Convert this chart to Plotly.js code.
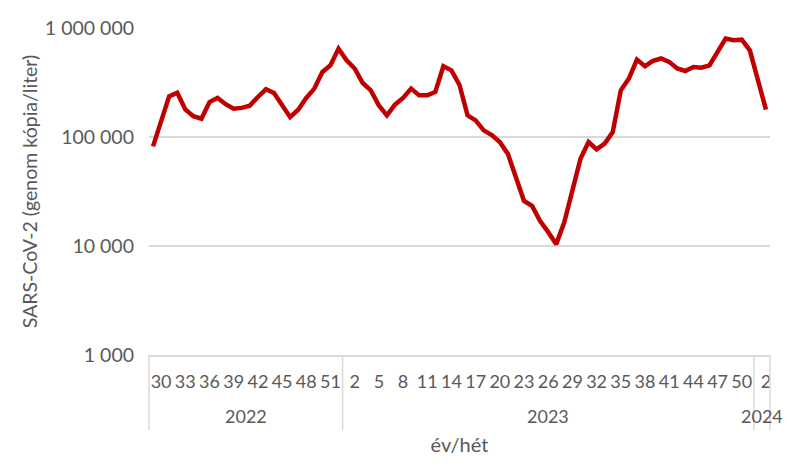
<!DOCTYPE html>
<html><head><meta charset="utf-8">
<script src="https://cdn.plot.ly/plotly-3.0.1.min.js"></script>
<style>html,body{margin:0;padding:0;background:#fff}#chart{width:802px;height:472px}</style>
</head><body><div id="chart"></div>
<script>
const years = [2022, 2023, 2024];
const weeks2022 = [29,30,31,32,33,34,35,36,37,38,39,40,41,42,43,44,45,46,47,48,49,50,51,52];
const weeks2023 = [1,2,3,4,5,6,7,8,9,10,11,12,13,14,15,16,17,18,19,20,21,22,23,24,25,26,27,28,29,30,31,32,33,34,35,36,37,38,39,40,41,42,43,44,45,46,47,48,49,50,51];
const weeks2024 = [1,2];
const values = [
  82000,145000,236000,255000,179000,155000,147000,209000,228000,200000,182000,185000,
  194000,233000,274000,253000,195000,152000,178000,228000,278000,395000,455000,647000,
  506000,425000,313000,268000,195000,158000,198000,228000,278000,241000,241000,259000,
  446000,409000,300000,158000,142000,115000,104000,90000,70000,43000,25900,23300,
  16900,13400,10400,16600,33600,63000,90000,77000,87000,111000,268000,343000,
  513000,446000,499000,525000,489000,425000,403000,439000,432000,455000,603000,800000,
  771000,782000,624000,320000,178000
];
const yTickVals = [1000, 10000, 100000, 1000000];
const yTickText = ["1\u00A0000", "10\u00A0000", "100\u00A0000", "1\u00A0000\u00A0000"];

const groups = [weeks2022, weeks2023, weeks2024];
const xIdx = [], tickVals = [], tickText = [];
const shapes = [], annotations = [];
let n = 0;
const total = groups.reduce((s, g) => s + g.length, 0);
const gray = '#d9d9d9', txt = '#595959', fnt = 'Lato, "Open Sans", sans-serif';
const bounds = [0];
groups.forEach((g, gi) => {
  const start = n;
  g.forEach((w, k) => {
    xIdx.push(n);
    if (k % 3 === 1) { tickVals.push(n); tickText.push(String(w)); }
    n++;
  });
  bounds.push(n);
  annotations.push({
    xref: 'paper', yref: 'paper', x: ((start + n) / 2) / total, y: -0.1875,
    text: String(years[gi]), showarrow: false, xanchor: 'center', yanchor: 'middle',
    font: {family: fnt, size: 18, color: txt}
  });
});
bounds.forEach(b => {
  shapes.push({type: 'line', xref: 'paper', yref: 'paper', x0: b / total, x1: b / total,
    y0: 0, y1: -0.23, line: {color: gray, width: 1.5}});
});

Plotly.newPlot('chart', [{
  x: xIdx, y: values, type: 'scatter', mode: 'lines',
  line: {color: '#c00000', width: 4.5}, hoverinfo: 'skip'
}], {
  width: 802, height: 472, autosize: false,
  margin: {l: 149, r: 32, t: 28, b: 117},
  paper_bgcolor: '#fff', plot_bgcolor: '#fff',
  showlegend: false,
  font: {family: fnt, size: 18, color: txt},
  xaxis: {
    range: [-0.5, total - 0.5], showgrid: false, zeroline: false,
    showline: true, linecolor: gray, linewidth: 1.5,
    tickmode: 'array', tickvals: tickVals, ticktext: tickText, ticks: '',
    ticklabelstandoff: 10, tickangle: 0,
    tickfont: {family: fnt, size: 18, color: txt},
    title: {text: 'év/hét', standoff: 47, font: {family: fnt, size: 20, color: txt}}
  },
  yaxis: {
    type: 'log', range: [3, 6], showgrid: true, gridcolor: gray, gridwidth: 1.5,
    zeroline: false, showline: false,
    tickmode: 'array', tickvals: yTickVals, ticktext: yTickText, ticks: '',
    ticklabelstandoff: 14,
    tickfont: {family: fnt, size: 19.5, color: txt},
    title: {text: 'SARS-CoV-2 (genom kópia/liter)', standoff: 2, font: {family: fnt, size: 19.5, color: txt}}
  },
  shapes: shapes, annotations: annotations
}, {staticPlot: true});
</script></body></html>
